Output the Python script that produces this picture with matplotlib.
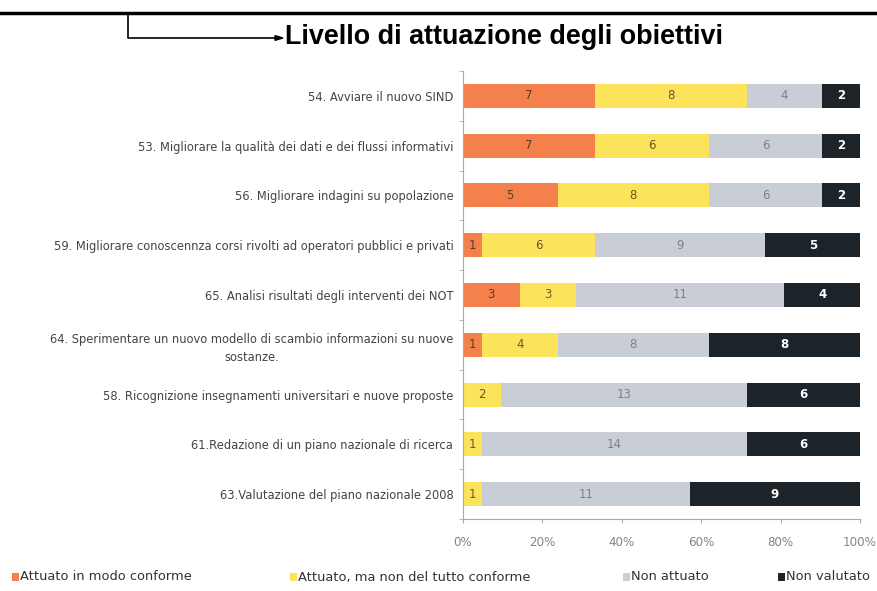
import matplotlib
matplotlib.use("Agg")
import matplotlib.pyplot as plt
import numpy as np
from matplotlib.patches import Rectangle

plt.rcParams["font.family"] = ["DejaVu Sans"]

categories = [
    "54. Avviare il nuovo SIND",
    "53. Migliorare la qualità dei dati e dei flussi informativi",
    "56. Migliorare indagini su popolazione",
    "59. Migliorare conoscennza corsi rivolti ad operatori pubblici e privati",
    "65. Analisi risultati degli interventi dei NOT",
    "64. Sperimentare un nuovo modello di scambio informazioni su nuove\nsostanze.",
    "58. Ricognizione insegnamenti universitari e nuove proposte",
    "61.Redazione di un piano nazionale di ricerca",
    "63.Valutazione del piano nazionale 2008",
]
conforme = [7, 7, 5, 1, 3, 1, 0, 0, 0]
parziale = [8, 6, 8, 6, 3, 4, 2, 1, 1]
non_attuato = [4, 6, 6, 9, 11, 8, 13, 14, 11]
non_valutato = [2, 2, 2, 5, 4, 8, 6, 6, 9]

series_names = ["Attuato in modo conforme", "Attuato, ma non del tutto conforme",
                "Non attuato", "Non valutato"]
colors = ["#f4814c", "#fbe35c", "#c9ced6", "#1c2329"]
text_colors = ["#5a3a2a", "#6a5a20", "#808080", "white"]

data = np.array([conforme, parziale, non_attuato, non_valutato], dtype=float)
totals = data.sum(axis=0)
pct = data / totals * 100

fig = plt.figure(figsize=(8.77, 5.91), dpi=100)
ax = fig.add_axes([463 / 877, 1 - 519 / 591, 397 / 877, 448 / 591])

y = np.arange(len(categories))
left = np.zeros(len(categories))
for i in range(4):
    ax.barh(y, pct[i], left=left, height=0.48, color=colors[i], edgecolor="none")
    for j in range(len(categories)):
        if data[i, j] > 0:
            ax.text(left[j] + pct[i, j] / 2, y[j], f"{int(data[i, j])}",
                    ha="center", va="center", fontsize=8.5,
                    color=text_colors[i], fontweight="bold" if i == 3 else "normal")
    left += pct[i]

ax.set_ylim(len(categories) - 0.5, -0.5)
ax.set_xlim(0, 100)
ax.set_yticks(y)
ax.set_yticklabels(categories, fontsize=8.3, color="#444444", ha="right", linespacing=1.5)
ax.set_yticks(np.arange(-0.5, len(categories), 1), minor=True)
ax.tick_params(axis="y", which="major", length=0, pad=7)
ax.tick_params(axis="y", which="minor", length=3, color="#aaaaaa")
for lbl in ax.get_yticklabels():
    lbl.set_multialignment("center")
ax.set_xticks([0, 20, 40, 60, 80, 100])
ax.set_xticklabels(["0%", "20%", "40%", "60%", "80%", "100%"], fontsize=8.6, color="#858585")
ax.tick_params(axis="x", length=3, color="#aaaaaa", pad=9)
for s in ["top", "right"]:
    ax.spines[s].set_visible(False)
for s in ["left", "bottom"]:
    ax.spines[s].set_color("#aaaaaa")
    ax.spines[s].set_linewidth(0.8)

# legend, placed by hand to keep the original spacing
legend_x = [12, 290, 623, 778]
ly = 1 - 577 / 591
for x0, c, name in zip(legend_x, colors, series_names):
    fig.patches.append(Rectangle((x0 / 877, ly - 4 / 591), 7 / 877, 8 / 591,
                                 facecolor=c, edgecolor="none", transform=fig.transFigure))
    fig.text((x0 + 8) / 877, ly, name, fontsize=9.4, color="#333333", va="center", ha="left")

# header rule and arrow to title
fig.add_artist(plt.Line2D([0, 1], [1 - 13 / 591, 1 - 13 / 591], color="black", lw=2.5))
fig.add_artist(plt.Line2D([128 / 877, 128 / 877, 280 / 877],
                          [1 - 15 / 591, 1 - 38 / 591, 1 - 38 / 591], color="black", lw=1.2))
fig.patches.append(matplotlib.patches.FancyArrow(275 / 877, 1 - 38 / 591, 8 / 877, 0,
                                                 width=0.0, head_width=0.008, head_length=8 / 877,
                                                 length_includes_head=True, color="black",
                                                 transform=fig.transFigure))
fig.text(285 / 877, 1 - 37 / 591, "Livello di attuazione degli obiettivi",
         fontsize=19.4, fontweight="bold", va="center", ha="left",
         family=["Liberation Sans", "DejaVu Sans"])

fig.savefig("out.png", dpi=100, facecolor="white")
